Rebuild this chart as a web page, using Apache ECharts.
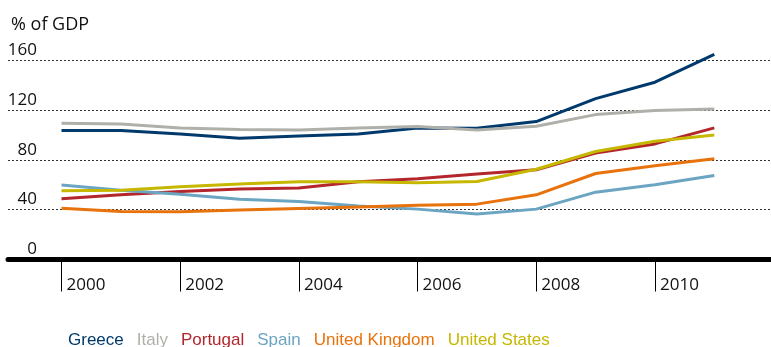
<!DOCTYPE html>
<html>
<head>
<meta charset="utf-8">
<script src="https://cdn.jsdelivr.net/npm/echarts@6/dist/echarts.min.js"></script>
<style>
  html, body { margin: 0; padding: 0; background: #fff; }
  #chart { width: 771px; height: 347px; }
</style>
</head>
<body>
<div id="chart"></div>
<script>
// Government debt, % of GDP, 2000-2011
const years = [2000, 2001, 2002, 2003, 2004, 2005, 2006, 2007, 2008, 2009, 2010, 2011];
const tickYears = [2000, 2002, 2004, 2006, 2008, 2010];
const yTicks = [0, 40, 80, 120, 160];

const greece   = [103.4, 103.4, 100.7, 97.2, 99.1, 100.7, 105.5, 105.2, 110.6, 129.0, 142.2, 164.5];
const italy    = [109.3, 108.7, 105.5, 104.2, 103.9, 105.5, 106.7, 103.9, 106.8, 116.2, 119.5, 120.8];
const portugal = [48.7, 51.9, 54.5, 56.5, 57.3, 62.3, 64.7, 68.5, 72.0, 85.3, 92.7, 105.6];
const spain    = [59.7, 55.6, 52.4, 48.4, 46.5, 43.0, 40.4, 36.4, 40.4, 54.0, 59.9, 67.4];
const uk       = [41.2, 38.5, 38.2, 39.6, 40.9, 42.2, 43.5, 44.4, 51.9, 69.0, 75.2, 80.8];
const us       = [55.1, 55.5, 58.3, 60.5, 62.3, 62.3, 61.5, 62.6, 72.4, 86.6, 94.9, 99.8];

const seriesDefs = [
  { name: 'Greece', data: greece, color: '#003a6c' },
  { name: 'Italy', data: italy, color: '#b0b0aa' },
  { name: 'Portugal', data: portugal, color: '#b3262b' },
  { name: 'Spain', data: spain, color: '#6ba5c2' },
  { name: 'United Kingdom', data: uk, color: '#e8720c' },
  { name: 'United States', data: us, color: '#c6b700' }
];

const chart = echarts.init(document.getElementById('chart'), null, { renderer: 'canvas' });

chart.setOption({
  animation: false,
  backgroundColor: '#ffffff',
  title: {
    text: '% of GDP',
    left: 6,
    top: 11,
    textStyle: { fontFamily: 'Open Sans', fontSize: 18, fontWeight: 'normal', color: '#111' }
  },
  legend: {
    left: 58,
    top: 327,
    icon: 'none',
    itemWidth: 0,
    itemGap: 8,
    selectedMode: false,
    data: seriesDefs.map(s => ({
      name: s.name,
      textStyle: { color: s.color, fontFamily: 'Liberation Sans', fontSize: 17 }
    }))
  },
  grid: { left: 8, right: 0, top: 60, bottom: 87.5 },
  xAxis: {
    type: 'value',
    min: 1999.0986,
    max: 2011.955,
    splitLine: { show: false },
    axisLine: { show: true, onZero: false, lineStyle: { color: '#000', width: 5 } },
    axisTick: {
      show: true,
      customValues: tickYears,
      length: 32,
      lineStyle: { color: '#000', width: 1 }
    },
    axisLabel: {
      customValues: tickYears,
      formatter: v => String(v),
      align: 'left',
      verticalAlign: 'middle',
      margin: 26,
      padding: [0, 0, 0, 5],
      fontFamily: 'Open Sans',
      fontSize: 17,
      color: '#111'
    }
  },
  yAxis: {
    type: 'value',
    min: yTicks[0],
    max: yTicks[yTicks.length - 1],
    interval: 40,
    axisLine: { show: false },
    axisTick: { show: false },
    splitLine: { show: true, lineStyle: { color: '#333', width: 1, type: [2, 2] } },
    axisLabel: {
      inside: true,
      align: 'right',
      verticalAlign: 'bottom',
      margin: 29,
      lineHeight: 18,
      padding: [0, 0, 1, 0],
      fontFamily: 'Open Sans',
      fontSize: 17,
      color: '#111'
    }
  },
  series: seriesDefs.map(s => ({
    name: s.name,
    type: 'line',
    data: years.map((y, i) => [y, s.data[i]]),
    symbol: 'none',
    clip: false,
    color: s.color,
    lineStyle: { color: s.color, width: 3 }
  }))
});
</script>
</body>
</html>
